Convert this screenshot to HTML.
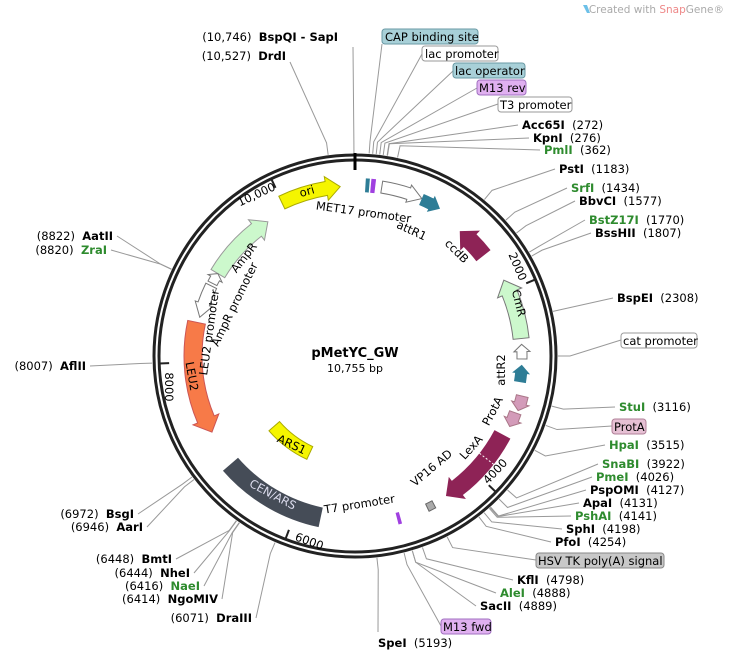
<!DOCTYPE html>
<html><head><meta charset="utf-8"><style>
html,body{margin:0;padding:0;background:#fff;width:730px;height:659px;overflow:hidden}
svg{display:block;font-family:"DejaVu Sans","Liberation Sans",sans-serif;font-size:11.5px}
.b{font-weight:bold}.g{fill:#2e8b2e}
</style></head><body>
<svg id="s" width="730" height="659" viewBox="0 0 730 659" xmlns="http://www.w3.org/2000/svg">
<g id="lines" stroke="#999" stroke-width="1" fill="none"></g>
<g id="feat"></g>
<circle cx="355" cy="356" r="201" fill="none" stroke="#222" stroke-width="3"/>
<circle cx="355" cy="356" r="196" fill="none" stroke="#222" stroke-width="3"/>
<line x1="355" y1="153" x2="355" y2="170" stroke="#000" stroke-width="3"/>
<g id="ticks" stroke="#222" stroke-width="2"></g>

<text x="724" y="13" text-anchor="end" font-size="10.5" fill="#aaa">Created with <tspan fill="#e88">Snap</tspan>Gene®</text>
<path d="M583 5 l4 0 l3 8 l-3 0z" fill="#6cc0e8"/>

<text x="355" y="357" text-anchor="middle" font-size="13" class="b">pMetYC_GW</text>
<text x="355" y="372" text-anchor="middle" font-size="11">10,755 bp</text>

<text transform="translate(258,198) rotate(-25)" text-anchor="middle">10,000</text>
<text transform="translate(514,268) rotate(67)" text-anchor="middle">2000</text>
<text transform="translate(498,474) rotate(-47)" text-anchor="middle">4000</text>
<text transform="translate(308,545) rotate(20)" text-anchor="middle">6000</text>
<text transform="translate(165,387) rotate(90)" text-anchor="middle">8000</text>

<text transform="translate(308,195) rotate(-16)" text-anchor="middle">ori</text>
<text transform="translate(363,216) rotate(8)" text-anchor="middle">MET17 promoter</text>
<text transform="translate(410,234) rotate(25)" text-anchor="middle">attR1</text>
<text transform="translate(454,254) rotate(45)" text-anchor="middle">ccdB</text>
<text transform="translate(515,304) rotate(76)" text-anchor="middle">CmR</text>
<text transform="translate(505,370) rotate(-90)" text-anchor="middle">attR2</text>
<text transform="translate(496,413) rotate(-62)" text-anchor="middle">ProtA</text>
<text transform="translate(474,450) rotate(-48)" text-anchor="middle">LexA</text>
<text transform="translate(434,471) rotate(-40)" text-anchor="middle">VP16 AD</text>
<text transform="translate(360,508) rotate(-9)" text-anchor="middle">T7 promoter</text>
<text transform="translate(271,498) rotate(28)" text-anchor="middle" fill="#dde">CEN/ARS</text>
<text transform="translate(290,448) rotate(25)" text-anchor="middle">ARS1</text>
<text transform="translate(188,377) rotate(80)" text-anchor="middle">LEU2</text>
<text transform="translate(213,333) rotate(-82)" text-anchor="middle">LEU2 promoter</text>
<text transform="translate(238,306) rotate(-64)" text-anchor="middle">AmpR promoter</text>
<text transform="translate(247,260) rotate(-52)" text-anchor="middle">AmpR</text>

<rect x="382" y="29" width="96" height="15" rx="3" fill="#a8d0d8" stroke="#6a9aa5"/><text x="385" y="41">CAP binding site</text>
<rect x="422" y="46" width="76" height="15" rx="3" fill="#fff" stroke="#999"/><text x="425" y="58">lac promoter</text>
<rect x="453" y="63" width="72" height="15" rx="3" fill="#a8d0d8" stroke="#6a9aa5"/><text x="455" y="75">lac operator</text>
<rect x="477" y="80" width="49" height="15" rx="3" fill="#e0b0f0" stroke="#a070c0"/><text x="479" y="92">M13 rev</text>
<rect x="498" y="97" width="74" height="15" rx="3" fill="#fff" stroke="#999"/><text x="500" y="109">T3 promoter</text>
<rect x="621" y="333" width="76" height="15" rx="3" fill="#fff" stroke="#999"/><text x="623" y="345">cat promoter</text>
<rect x="612" y="419" width="34" height="15" rx="3" fill="#e6c0d4" stroke="#b08098"/><text x="614" y="431">ProtA</text>
<rect x="536" y="553" width="128" height="15" rx="3" fill="#c8c8c8" stroke="#888"/><text x="538" y="565">HSV TK poly(A) signal</text>
<rect x="441" y="619" width="50" height="15" rx="3" fill="#e0b0f0" stroke="#a070c0"/><text x="443" y="631">M13 fwd</text>

<text x="522" y="129"><tspan class="b">Acc65I</tspan>&#160;&#160;(272)</text>
<text x="533" y="142"><tspan class="b">KpnI</tspan>&#160;&#160;(276)</text>
<text x="544" y="154"><tspan class="b g">PmlI</tspan>&#160;&#160;(362)</text>
<text x="559" y="173"><tspan class="b">PstI</tspan>&#160;&#160;(1183)</text>
<text x="571" y="192"><tspan class="b g">SrfI</tspan>&#160;&#160;(1434)</text>
<text x="579" y="205"><tspan class="b">BbvCI</tspan>&#160;&#160;(1577)</text>
<text x="589" y="224"><tspan class="b g">BstZ17I</tspan>&#160;&#160;(1770)</text>
<text x="595" y="237"><tspan class="b">BssHII</tspan>&#160;&#160;(1807)</text>
<text x="617" y="302"><tspan class="b">BspEI</tspan>&#160;&#160;(2308)</text>
<text x="619" y="411"><tspan class="b g">StuI</tspan>&#160;&#160;(3116)</text>
<text x="609" y="449"><tspan class="b g">HpaI</tspan>&#160;&#160;(3515)</text>
<text x="602" y="468"><tspan class="b g">SnaBI</tspan>&#160;&#160;(3922)</text>
<text x="596" y="481"><tspan class="b g">PmeI</tspan>&#160;&#160;(4026)</text>
<text x="590" y="494"><tspan class="b">PspOMI</tspan>&#160;&#160;(4127)</text>
<text x="583" y="507"><tspan class="b">ApaI</tspan>&#160;&#160;(4131)</text>
<text x="575" y="520"><tspan class="b g">PshAI</tspan>&#160;&#160;(4141)</text>
<text x="566" y="533"><tspan class="b">SphI</tspan>&#160;&#160;(4198)</text>
<text x="555" y="546"><tspan class="b">PfoI</tspan>&#160;&#160;(4254)</text>
<text x="517" y="584"><tspan class="b">KflI</tspan>&#160;&#160;(4798)</text>
<text x="500" y="597"><tspan class="b g">AleI</tspan>&#160;&#160;(4888)</text>
<text x="480" y="610"><tspan class="b">SacII</tspan>&#160;&#160;(4889)</text>
<text x="378" y="647"><tspan class="b">SpeI</tspan>&#160;&#160;(5193)</text>
<text x="252" y="622" text-anchor="end">(6071)&#160;&#160;<tspan class="b">DraIII</tspan></text>
<text x="218" y="603" text-anchor="end">(6414)&#160;&#160;<tspan class="b">NgoMIV</tspan></text>
<text x="200" y="590" text-anchor="end">(6416)&#160;&#160;<tspan class="b g">NaeI</tspan></text>
<text x="190" y="577" text-anchor="end">(6444)&#160;&#160;<tspan class="b">NheI</tspan></text>
<text x="172" y="563" text-anchor="end">(6448)&#160;&#160;<tspan class="b">BmtI</tspan></text>
<text x="134" y="518" text-anchor="end">(6972)&#160;&#160;<tspan class="b">BsgI</tspan></text>
<text x="143" y="531" text-anchor="end">(6946)&#160;&#160;<tspan class="b">AarI</tspan></text>
<text x="86" y="370" text-anchor="end">(8007)&#160;&#160;<tspan class="b">AflII</tspan></text>
<text x="113" y="240" text-anchor="end">(8822)&#160;&#160;<tspan class="b">AatII</tspan></text>
<text x="107" y="254" text-anchor="end">(8820)&#160;&#160;<tspan class="b g">ZraI</tspan></text>
<text x="338" y="41" text-anchor="end">(10,746)&#160;&#160;<tspan class="b">BspQI - SapI</tspan></text>
<text x="286" y="60" text-anchor="end">(10,527)&#160;&#160;<tspan class="b">DrdI</tspan></text>
</svg>
<script>
var NS="http://www.w3.org/2000/svg",cx=355,cy=356;
function P(a,r){a=a*Math.PI/180;return [cx+r*Math.sin(a),cy-r*Math.cos(a)];}
function el(g,t,at){var e=document.createElementNS(NS,t);for(var k in at)e.setAttribute(k,at[k]);document.getElementById(g).appendChild(e);return e;}
var L=[[518,125,9.1],[529,138,9.2],[540,150,12.1],[555,169,39.6],[567,188,48],[575,201,52.7],[585,220,59.2],[591,233,60.5],[613,298,77.3],[621,340,90],[615,407,104.3],[612,426,110],[605,445,117.7],[598,464,131.3],[592,477,134.8],[586,490,138.1],[579,503,138.3],[571,516,138.6],[562,529,140.5],[551,542,142.4],[536,560,153],[513,580,160.6],[496,593,163.6],[476,606,163.6],[441,626,166],[378,632,173.8],
[256,618,203.2],[222,599,214.7],[204,586,214.8],[194,573,215.7],[176,559,215.8],[138,514,233.4],[147,527,232.5],[90,366,268],[117,236,295.3],[111,250,295.3],
[353,47,359.7],[290,62,352.4],[382,44,4],[422,54,5],[453,71,6],[477,88,7],[498,104,8]];
L.forEach(function(l){var a=P(l[2],215),b=P(l[2],203);el("lines","polyline",{points:l[0]+","+l[1]+" "+a[0]+","+a[1]+" "+b[0]+","+b[1]});});
[67,134,200.8,267.8,334.7].forEach(function(a){var p=P(a,196),q=P(a,186);el("ticks","line",{x1:p[0],y1:p[1],x2:q[0],y2:q[1]});});
function arrow(a1,a2,r,w,f,s,head){
 var dir=a2>a1?1:-1,span=Math.abs(a2-a1);
 var hl=head?Math.min(14/r*180/Math.PI,span*0.5):0,am=a2-dir*hl;
 var fl=w<=12?3:5;
 var ro=r+w/2,ri=r-w/2,lg=Math.abs(am-a1)>180?1:0,sw=dir>0?1:0;
 var p1=P(a1,ro),p2=P(am,ro),p3=P(am,ri),p4=P(a1,ri);
 var d="M"+p1+" A"+ro+","+ro+" 0 "+lg+" "+sw+" "+p2;
 if(head){var h1=P(am,ro+fl),t=P(a2,r),h2=P(am,ri-fl);d+=" L"+h1+" L"+t+" L"+h2+" L"+p3;}else d+=" L"+p3;
 d+=" A"+ri+","+ri+" 0 "+lg+" "+(1-sw)+" "+p4+"Z";
 el("feat","path",{d:d,fill:f,stroke:s||"none","stroke-width":1});}
arrow(334.5,355,170,14,"#f5f500","#aa0",1);
arrow(301,327,160,16,"#ccf8cc","#999",1);
arrow(297,301,160,10,"#fff","#777",1);
arrow(296,284,160,12,"#fff","#777",1);
arrow(282,242,162,18,"#f77a48","#c55",1);
arrow(229,192,165,20,"#454c57",null,0);
arrow(229,205,107,14,"#f5f500","#aa0",0);
arrow(9,23,171,12,"#fff","#777",1);
arrow(23,30,170,12,"#2e7d96",null,1);
arrow(3.5,4.8,171,14,"#2e7d96",null,0);
arrow(5.3,6.8,171,14,"#a040e0",null,0);
arrow(52,40,163,18,"#8e2356",null,1);
arrow(84,63,167,16,"#ccf8cc","#777",1);
arrow(91,86,167,10,"#fff","#777",1);
arrow(99,93,167,12,"#2e7d96",null,1);
arrow(103.5,108.5,172,12,"#d39bb9","#a78",1);
arrow(109.5,114.5,170,12,"#d39bb9","#a78",1);
arrow(118,147,167,18,"#8e2356",null,1);
arrow(152,154.5,168,8,"#aaa","#666",0);
arrow(164.3,165.5,168,12,"#a040e0",null,0);
var dp=P(128,158),dq=P(128,176);el("feat","line",{x1:dp[0],y1:dp[1],x2:dq[0],y2:dq[1],stroke:"#fff","stroke-dasharray":"2,2"});
</script>
</body></html>
